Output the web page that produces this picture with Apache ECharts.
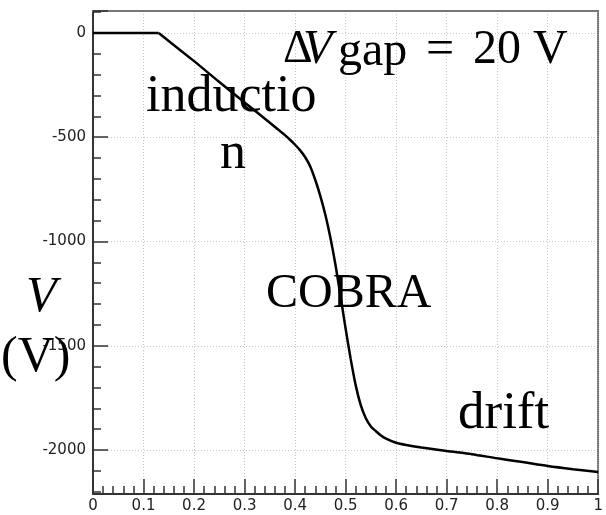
<!DOCTYPE html>
<html>
<head>
<meta charset="utf-8">
<script src="https://cdn.jsdelivr.net/npm/echarts@6/dist/echarts.min.js"></script>
<style>
html,body{margin:0;padding:0;background:#fff;}
#chart{width:606px;height:515px;}
</style>
</head>
<body>
<div id="chart"></div>
<script>
// Curve: position (x) and potential V (volts)
const positions = [0, 0.13, 0.2, 0.25, 0.3, 0.35, 0.38, 0.39, 0.40, 0.41, 0.42, 0.43, 0.44, 0.45, 0.46, 0.47, 0.48, 0.49, 0.50, 0.51, 0.52, 0.53, 0.54, 0.55, 0.56, 0.57, 0.58, 0.60, 0.62, 0.65, 0.70, 0.75, 0.80, 0.85, 0.90, 0.95, 1.0];
const voltages  = [0, 0, -135, -235, -333, -430, -490, -512, -536, -563, -596, -640, -705, -782, -873, -983, -1113, -1263, -1418, -1563, -1690, -1785, -1848, -1887, -1910, -1930, -1945, -1965, -1976, -1988, -2005, -2020, -2040, -2058, -2077, -2092, -2105];

const xRange = [0, 1];
const yRange = [-2211, 105.5];
const yTickLabels = [-2000, -1500, -1000, -500, 0];

const annotations = ['inductio', 'n', 'COBRA', 'drift'];

const chart = echarts.init(document.getElementById('chart'), null, {renderer: 'canvas'});
const data = positions.map((x, i) => [x, voltages[i]]);

const serif = '"Liberation Serif", "Times New Roman", serif';
function txt(text, x, y, size, extra) {
  return {
    type: 'text', x: x, y: y, z: 100,
    style: Object.assign({
      text: text, font: size + 'px ' + serif, fill: '#000',
      align: 'left', verticalAlign: 'middle', textAlign: 'left', textVerticalAlign: 'middle'
    }, extra || {})
  };
}
const labelFont = {color: '#222', fontSize: 15, fontFamily: '"DejaVu Sans", sans-serif'};

chart.setOption({
  animation: false,
  backgroundColor: '#fff',
  grid: {left: 93, right: 3, top: 11, bottom: 21, containLabel: false},
  xAxis: [{
    type: 'value', min: xRange[0], max: xRange[1], interval: 0.1,
    axisLine: {onZero: false, lineStyle: {color: '#333', width: 2}},
    axisTick: {inside: true, length: 15, lineStyle: {color: '#333', width: 1.5}},
    minorTick: {show: true, splitNumber: 5, length: 8, lineStyle: {color: '#333', width: 1.5}},
    axisLabel: Object.assign({margin: 5, formatter: v => String(Math.round(v * 10) / 10)}, labelFont),
    splitLine: {show: true, lineStyle: {color: '#c8c8c8', type: [1, 2], width: 1}}
  }, {
    type: 'value', position: 'top', min: xRange[0], max: xRange[1],
    axisLine: {onZero: false, lineStyle: {color: '#777', width: 2}},
    axisTick: {show: false}, axisLabel: {show: false}, splitLine: {show: false}
  }],
  yAxis: [{
    type: 'value', min: yRange[0], max: yRange[1], splitNumber: 5,
    axisLine: {show: true, onZero: false, lineStyle: {color: '#333', width: 2}},
    axisTick: {inside: true, length: 15, lineStyle: {color: '#333', width: 1.5}},
    minorTick: {show: true, splitNumber: 5, length: 8, lineStyle: {color: '#333', width: 1.5}},
    axisLabel: Object.assign({margin: 7, showMinLabel: false, showMaxLabel: false,
      formatter: v => (yTickLabels.indexOf(v) >= 0 ? String(v) : '')}, labelFont),
    splitLine: {show: true, lineStyle: {color: '#c8c8c8', type: [1, 2], width: 1}}
  }, {
    type: 'value', position: 'right', min: yRange[0], max: yRange[1],
    axisLine: {show: true, onZero: false, lineStyle: {color: '#444', width: 1.5, type: [1, 1]}},
    axisTick: {show: false}, axisLabel: {show: false}, splitLine: {show: false}
  }],
  series: [{
    type: 'line', xAxisIndex: 0, yAxisIndex: 0, data: data.slice(0, 2),
    showSymbol: false, smooth: false,
    lineStyle: {color: '#000', width: 2.5}
  }, {
    type: 'line', xAxisIndex: 0, yAxisIndex: 0, data: data.slice(1),
    showSymbol: false, smooth: 0.25,
    lineStyle: {color: '#000', width: 2.5}
  }],
  graphic: [
    txt(annotations[0], 146, 97, 52),
    txt(annotations[1], 220, 154, 52),
    txt(annotations[2], 266, 294.4, 48),
    txt(annotations[3], 458, 414, 53),
    txt('V', 26, 297.75, 50, {font: 'italic 50px ' + serif}),
    txt('(V)', 1, 357.75, 50),
    txt('Δ', 283, 50.4, 46),
    txt('V', 303, 50.4, 48, {font: 'italic 48px ' + serif}),
    txt('gap', 338, 52.4, 48),
    txt('=', 426, 50.4, 50),
    txt('20 V', 473, 50.4, 48)
  ]
});
</script>
</body>
</html>
